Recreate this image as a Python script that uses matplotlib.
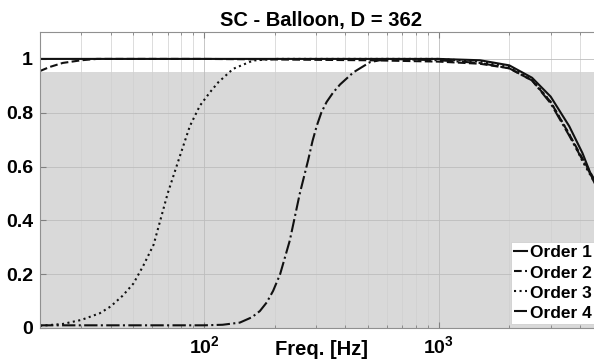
import numpy as np
import matplotlib.pyplot as plt
from matplotlib.ticker import LogLocator, NullFormatter

plt.rcParams['font.family'] = ['Liberation Sans', 'DejaVu Sans']
plt.rcParams['font.weight'] = 'bold'
plt.rcParams['mathtext.fontset'] = 'custom'
plt.rcParams['mathtext.rm'] = 'Liberation Sans:bold'
plt.rcParams['mathtext.bf'] = 'Liberation Sans:bold'
plt.rcParams['mathtext.default'] = 'bf'

# values
f1 = [20, 500, 1000, 1500, 2000, 2500, 3000, 3600, 4100, 4550, 5000]
v1 = [1.0, 1.0, 1.0, 0.995, 0.976, 0.93, 0.86, 0.75, 0.65, 0.55, 0.48]

f2 = [20, 22, 25, 30, 35, 50, 100, 500, 1000, 1500, 2000, 2500, 3000, 3600, 4100, 4550, 5000]
v2 = [0.955, 0.97, 0.985, 0.995, 1.0, 1.0, 1.0, 0.995, 0.99, 0.982, 0.965, 0.92, 0.84, 0.72, 0.63, 0.56, 0.50]

f3 = [20, 25, 30, 36, 40, 45, 50, 55, 61, 70, 79, 87, 96, 106, 115, 133, 162, 200,
      500, 1000, 1500, 2000, 2500, 3000, 3600, 4100, 4550, 5000]
v3 = [0.008, 0.015, 0.03, 0.055, 0.08, 0.12, 0.165, 0.23, 0.31, 0.5, 0.64, 0.75, 0.826, 0.876, 0.913, 0.963, 0.994, 1.0,
      1.0, 1.0, 0.99, 0.97, 0.925, 0.84, 0.72, 0.62, 0.55, 0.49]

f4 = [20, 100, 120, 142, 160, 173, 185, 197, 211, 232, 256, 278, 290, 302, 316, 333, 355, 380, 433, 510, 600,
      1000, 1500, 2000, 2500, 3000, 3600, 4100, 4550, 5000]
v4 = [0.01, 0.01, 0.012, 0.02, 0.04, 0.063, 0.095, 0.138, 0.2, 0.325, 0.5, 0.625, 0.695, 0.75, 0.8, 0.84, 0.875, 0.905, 0.95, 0.988, 1.0,
      0.995, 0.985, 0.965, 0.92, 0.835, 0.715, 0.625, 0.555, 0.50]

labels = ['Order 1', 'Order 2', 'Order 3', 'Order 4']
styles = ['-', '--', ':', '-.']
band_top = 0.95

fig = plt.figure(figsize=(5.94, 3.6), dpi=100)
# axes run a little past the right edge of the picture, as in the reference
ax = fig.add_axes([40/594, 1-328/360, 562.7/594, 296/360])

ax.axhspan(0, band_top, color='#d9d9d9', lw=0, zorder=0.2)
for f, v, ls, lab in zip([f1, f2, f3, f4], [v1, v2, v3, v4], styles, labels):
    ax.plot(f, v, ls, color='#111111', lw=1.5, label=lab)

ax.set_xscale('log')
ax.set_xlim(20, 5000)
ax.set_ylim(0, 1.1)
ax.set_yticks([0, 0.2, 0.4, 0.6, 0.8, 1])
ax.set_yticklabels(['0', '0.2', '0.4', '0.6', '0.8', '1'])
ax.xaxis.set_major_locator(LogLocator(base=10))
ax.xaxis.set_minor_locator(LogLocator(base=10, subs=np.arange(2, 10)))
ax.xaxis.set_minor_formatter(NullFormatter())

ax.set_axisbelow(True)
ax.grid(True, which='major', color='#bdbdbd', lw=0.6)
ax.grid(True, which='minor', axis='x', color='#cfcfcf', lw=0.5)

ax.tick_params(which='both', direction='in', top=True, right=True, colors='#808080',
               labelcolor='black', labelsize=14, pad=5)
ax.tick_params(which='major', length=4)
ax.tick_params(which='minor', length=2.5)
for s in ax.spines.values():
    s.set_color('#909090')
    s.set_linewidth(0.8)

ax.set_title('SC - Balloon, D = 362', fontsize=14.5, fontweight='bold', pad=4)
ax.set_xlabel('Freq. [Hz]', fontsize=14.5, fontweight='bold')
ax.xaxis.set_label_coords(0.5, -0.071)
ax.xaxis.label.set_va('center')

leg = ax.legend(loc='lower right', bbox_to_anchor=(0.9863, 0.0135), prop={'weight': 'bold', 'size': 12.5},
                handlelength=0.75, handletextpad=0.15, labelspacing=0.28, borderpad=0.2,
                borderaxespad=0, fancybox=False, framealpha=1, edgecolor='#d0d0d0')
leg.get_frame().set_linewidth(0.6)

fig.savefig('out.png', dpi=100)
